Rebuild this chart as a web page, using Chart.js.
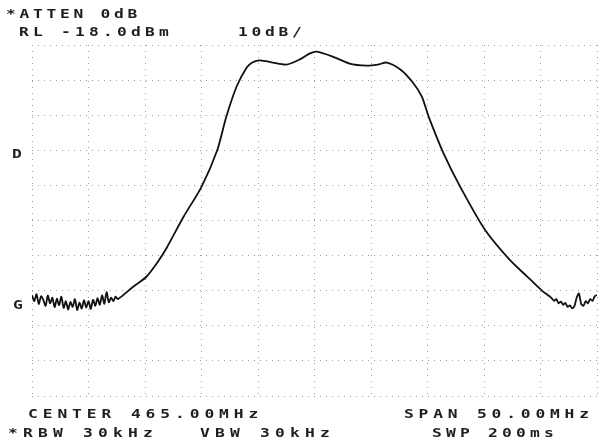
<!DOCTYPE html>
<html>
<head>
<meta charset="utf-8">
<script src="https://cdn.jsdelivr.net/npm/chart.js@4.4.0/dist/chart.umd.min.js"></script>
<style>
  body { margin: 0; background: #fff; }
  canvas { display: block; }
</style>
</head>
<body>
<canvas id="specChart" width="598" height="447"></canvas>
<script>
// frequency (MHz) and level (dBm)
const freqs = [
  440.0, 440.2, 440.4, 440.6, 440.8, 441.0, 441.2, 441.4, 441.6, 441.8,
  442.0, 442.2, 442.4, 442.6, 442.8, 443.0, 443.2, 443.4, 443.6, 443.8,
  444.0, 444.2, 444.4, 444.6, 444.8, 445.0, 445.2, 445.4, 445.6, 445.8,
  446.0, 446.2, 446.4, 446.6, 446.8, 447.0, 447.2, 447.4,
  447.6, 448.9, 450.1, 451.0, 451.9, 453.4, 455.0, 456.4, 457.2, 458.1,
  459.0, 459.5, 460.1, 460.7, 461.3, 462.5, 463.7, 464.6, 465.2, 466.6,
  468.1, 469.6, 470.6, 471.4, 472.6, 473.7, 474.5, 475.1, 476.4, 477.9,
  480.1, 482.3, 483.8, 485.1, 485.8,
  486.0, 486.2, 486.4, 486.6, 486.8, 487.0, 487.2, 487.4, 487.6, 487.8,
  488.0, 488.2, 488.4, 488.6, 488.8, 489.0, 489.2, 489.4, 489.6, 489.8, 490.0
];
const levels = [
  -89.3, -91.0, -89.0, -91.8, -89.6, -90.6, -92.3, -89.4, -91.6, -90.0,
  -92.7, -90.3, -92.1, -89.7, -92.9, -91.0, -93.4, -91.2, -92.6, -90.4,
  -93.5, -91.4, -93.1, -90.7, -92.8, -91.0, -93.2, -90.6, -92.3, -90.1,
  -92.0, -89.3, -91.7, -88.4, -91.3, -90.0, -91.0, -89.7,
  -90.4, -87.0, -84.1, -80.4, -75.9, -67.0, -58.4, -47.9, -38.4, -29.9,
  -24.4, -23.0, -22.4, -22.6, -23.0, -23.6, -22.1, -20.4, -19.9, -21.3,
  -23.3, -23.9, -23.6, -23.0, -25.0, -28.7, -32.7, -38.4, -48.7, -58.4,
  -70.7, -79.3, -83.9, -87.9, -89.6,
  -90.2, -90.9, -90.4, -91.6, -91.1, -92.0, -91.5, -92.6, -92.2, -93.0,
  -92.4, -90.0, -88.8, -91.8, -92.3, -91.0, -91.6, -90.4, -90.9, -89.6, -89.2
];

// screen annotations: [text, x, y, pitch]
const labels = [
  ['*ATTEN 0dB', 6, 15, 13.5],
  ['RL -18.0dBm', 19, 33, 14],
  ['10dB/', 238, 33, 13.5],
  ['CENTER 465.00MHz', 28, 415, 14.7],
  ['SPAN 50.00MHz', 404, 415, 14.6],
  ['*RBW 30kHz', 8, 434, 15],
  ['VBW 30kHz', 200, 434, 15],
  ['SWP 200ms', 432, 434, 14],
  ['D', 12, 155, 14],
  ['G', 13, 306, 14]
];

const points = freqs.map((f, i) => ({ x: f, y: levels[i] }));

const textPlugin = {
  id: 'screenText',
  afterDraw(chart) {
    const ctx = chart.ctx;
    ctx.save();
    ctx.fillStyle = '#1e1e1e';
    ctx.font = 'bold 13px "DejaVu Sans Mono"';
    ctx.textBaseline = 'middle';
    labels.forEach(([txt, x, y, pitch]) => {
      for (let i = 0; i < txt.length; i++) {
        ctx.setTransform(1.25, 0, 0, 1, x + i * pitch, y);
        ctx.fillText(txt[i], 0, 0);
      }
    });
    ctx.restore();
  }
};

const bgPlugin = {
  id: 'whiteBg',
  beforeDraw(chart) {
    const ctx = chart.ctx;
    ctx.save();
    ctx.fillStyle = '#fff';
    ctx.fillRect(0, 0, chart.width, chart.height);
    ctx.restore();
  }
};

new Chart(document.getElementById('specChart'), {
  type: 'line',
  data: {
    datasets: [{
      data: points,
      borderColor: '#111',
      borderWidth: 1.8,
      pointRadius: 0,
      tension: 0.25
    }]
  },
  options: {
    responsive: false,
    animation: false,
    devicePixelRatio: 1,
    layout: { padding: { left: 32, right: 1, top: 45, bottom: 51 } },
    plugins: { legend: { display: false }, tooltip: { enabled: false } },
    scales: {
      x: {
        type: 'linear', min: 440, max: 490,
        ticks: { display: false, stepSize: 5 },
        grid: { color: '#a0a0a0', lineWidth: 1, drawTicks: false },
        border: { display: false, dash: [1, 5] }
      },
      y: {
        min: -118, max: -18,
        ticks: { display: false, stepSize: 10 },
        grid: { color: '#a0a0a0', lineWidth: 1, drawTicks: false },
        border: { display: false, dash: [1, 5] }
      }
    }
  },
  plugins: [bgPlugin, textPlugin]
});
</script>
</body>
</html>
